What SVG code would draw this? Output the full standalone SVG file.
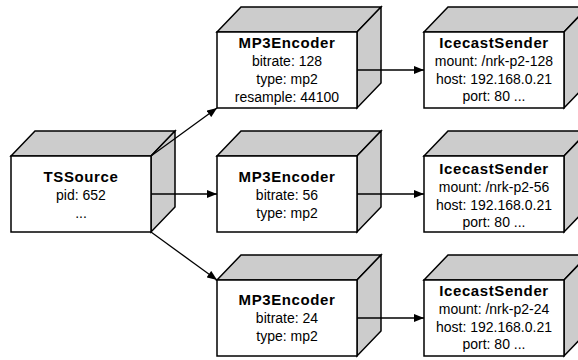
<svg xmlns="http://www.w3.org/2000/svg" xmlns:xlink="http://www.w3.org/1999/xlink" width="578" height="360" viewBox="0 0 578 360">
  <style>
    .face { fill: #ffffff; stroke: #000; stroke-width: 1.5; }
    .side { fill: #cccccc; stroke: #000; stroke-width: 1.5; stroke-linejoin: miter; }
    .t { font-family: "Liberation Sans", Arial, sans-serif; font-size: 14px; text-anchor: middle; fill: #000; }
    .b { font-weight: bold; font-size: 15px; letter-spacing: 0.6px; }
    .c { fill: none; stroke: #000; stroke-width: 1.3; }
  </style>
  <defs>
    <marker id="ah" viewBox="0 0 10 8" refX="10" refY="4" markerWidth="11" markerHeight="8" markerUnits="userSpaceOnUse" orient="auto">
      <path d="M0,0 L10,4 L0,8 z" fill="#000"/>
    </marker>
    <g id="box">
      <polygon class="side" points="0,0 24,-25 164,-25 140,0"/>
      <polygon class="side" points="140,0 164,-25 164,51 140,76"/>
      <rect class="face" x="0" y="0" width="140" height="76"/>
    </g>
  </defs>

  <g id="tssource">
    <use xlink:href="#box" x="11" y="156"/>
    <text class="t b" x="81" y="182">TSSource</text>
    <text class="t" x="81" y="200">pid: 652</text>
    <text class="t" x="81" y="218">...</text>
  </g>

  <g id="mp3enc1">
    <use xlink:href="#box" x="217" y="32"/>
    <text class="t b" x="287" y="48">MP3Encoder</text>
    <text class="t" x="287" y="66">bitrate: 128</text>
    <text class="t" x="287" y="84">type: mp2</text>
    <text class="t" x="287" y="102">resample: 44100</text>
  </g>

  <g id="mp3enc2">
    <use xlink:href="#box" x="217" y="156"/>
    <text class="t b" x="287" y="182">MP3Encoder</text>
    <text class="t" x="287" y="200">bitrate: 56</text>
    <text class="t" x="287" y="218">type: mp2</text>
  </g>

  <g id="mp3enc3">
    <use xlink:href="#box" x="217" y="280"/>
    <text class="t b" x="287" y="305">MP3Encoder</text>
    <text class="t" x="287" y="323">bitrate: 24</text>
    <text class="t" x="287" y="341">type: mp2</text>
  </g>

  <g id="ice1">
    <use xlink:href="#box" x="424" y="32"/>
    <text class="t b" x="494" y="48">IcecastSender</text>
    <text class="t" x="494" y="66">mount: /nrk-p2-128</text>
    <text class="t" x="494" y="84">host: 192.168.0.21</text>
    <text class="t" x="494" y="101">port: 80 ...</text>
  </g>

  <g id="ice2">
    <use xlink:href="#box" x="424" y="156"/>
    <text class="t b" x="494" y="174">IcecastSender</text>
    <text class="t" x="494" y="192">mount: /nrk-p2-56</text>
    <text class="t" x="494" y="210">host: 192.168.0.21</text>
    <text class="t" x="494" y="227">port: 80 ...</text>
  </g>

  <g id="ice3">
    <use xlink:href="#box" x="424" y="280"/>
    <text class="t b" x="494" y="296">IcecastSender</text>
    <text class="t" x="494" y="314">mount: /nrk-p2-24</text>
    <text class="t" x="494" y="332">host: 192.168.0.21</text>
    <text class="t" x="494" y="349">port: 80 ...</text>
  </g>

  <g id="connectors">
    <line class="c" x1="151" y1="156" x2="217" y2="108" marker-end="url(#ah)"/>
    <line class="c" x1="151" y1="194" x2="217" y2="194" marker-end="url(#ah)"/>
    <line class="c" x1="151" y1="232" x2="217" y2="280" marker-end="url(#ah)"/>
    <line class="c" x1="357" y1="70" x2="424" y2="70" marker-end="url(#ah)"/>
    <line class="c" x1="357" y1="194" x2="424" y2="194" marker-end="url(#ah)"/>
    <line class="c" x1="357" y1="318" x2="424" y2="318" marker-end="url(#ah)"/>
  </g>
</svg>
